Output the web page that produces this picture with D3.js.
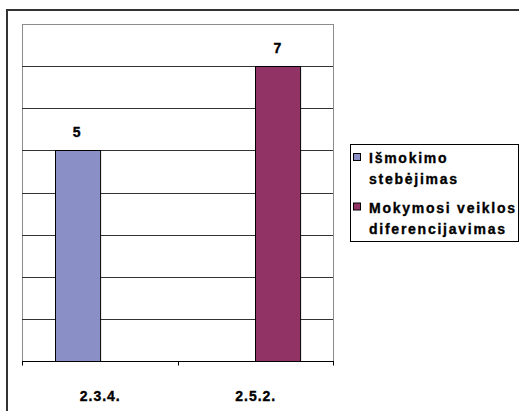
<!DOCTYPE html>
<html lang="lt">
  <head>
    <meta charset="UTF-8" />
    <title>Išmokimo stebėjimas</title>
    <style>
      body {
        margin: 0;
        background: #fff;
        font-family: "Liberation Sans", Arial, sans-serif;
      }
      svg {
        display: block;
      }
      .lbl {
        font-weight: bold;
        font-size: 14px;
        fill: #000;
        stroke: #000;
        stroke-width: 0.35px;
        letter-spacing: 1px;
      }
    </style>
  </head>
  <body>
    <script src="https://cdn.jsdelivr.net/npm/d3@7"></script>
    <script>
      // data
      var categories = ["2.3.4.", "2.5.2."];
      var seriesNames = ["Išmokimo stebėjimas", "Mokymosi veiklos diferencijavimas"];
      var seriesValues = [
        [5, null],
        [null, 7]
      ];
      var legendLines = [
        ["Išmokimo", "stebėjimas"],
        ["Mokymosi veiklos", "diferencijavimas"]
      ];
      var colors = ["#8a8fc6", "#913465"];

      var W = 519, H = 411;
      var plot = { left: 22, right: 333, top: 24, bottom: 361 };

      var svg = d3.select("body").append("svg").attr("width", W).attr("height", H);

      // outer chart border (runs off the right/bottom edge)
      svg.append("rect")
        .attr("x", 7).attr("y", 10)
        .attr("width", 530).attr("height", 430)
        .attr("fill", "#fff")
        .attr("stroke", "#333")
        .attr("stroke-width", 2);

      var x = d3.scaleBand().domain(categories).range([plot.left, plot.right]);
      var bw = x.bandwidth();
      var group = bw * 0.58;
      var xs = d3.scaleBand()
        .domain(d3.range(seriesNames.length))
        .range([(bw - group) / 2, (bw + group) / 2]);
      var y = d3.scaleLinear().domain([0, 8]).range([plot.bottom, plot.top]);

      // plot area + gridlines
      svg.append("rect")
        .attr("x", plot.left + 0.5).attr("y", plot.top + 0.5)
        .attr("width", plot.right - plot.left).attr("height", plot.bottom - plot.top)
        .attr("fill", "#fff")
        .attr("stroke", "#8c8c8c");

      svg.append("g")
        .selectAll("line")
        .data(y.ticks(8).filter(function (t) { return t > 0 && t < 8; }))
        .join("line")
        .attr("x1", plot.left).attr("x2", plot.right)
        .attr("y1", function (d) { return Math.round(y(d)) + 0.5; })
        .attr("y2", function (d) { return Math.round(y(d)) + 0.5; })
        .attr("stroke", "#333");

      // bars
      var bars = [];
      seriesValues.forEach(function (vals, s) {
        vals.forEach(function (v, i) {
          if (v != null) bars.push({ s: s, cat: categories[i], v: v });
        });
      });

      svg.append("g")
        .selectAll("rect")
        .data(bars)
        .join("rect")
        .attr("x", function (d) { return Math.round(x(d.cat) + xs(d.s)) + 0.5; })
        .attr("y", function (d) { return Math.round(y(d.v)) + 0.5; })
        .attr("width", xs.bandwidth())
        .attr("height", function (d) { return y(0) - Math.round(y(d.v)); })
        .attr("fill", function (d) { return colors[d.s]; })
        .attr("stroke", "#000");

      svg.append("g")
        .selectAll("text")
        .data(bars)
        .join("text")
        .attr("class", "lbl")
        .attr("text-anchor", "middle")
        .attr("x", function (d) { return x(d.cat) + xs(d.s) + xs.bandwidth() / 2; })
        .attr("y", function (d) { return y(d.v) - 13; })
        .text(function (d) { return d.v; });

      // x axis
      var xAxis = svg.append("g").attr("transform", "translate(0," + (plot.bottom + 0.5) + ")");
      xAxis.append("line")
        .attr("x1", plot.left).attr("x2", plot.right + 1)
        .attr("stroke", "#000");
      xAxis.selectAll("line.tick")
        .data(categories.map(function (c) { return x(c); }).concat([plot.right]))
        .join("line")
        .attr("class", "tick")
        .attr("x1", function (d) { return Math.round(d) + 0.5; })
        .attr("x2", function (d) { return Math.round(d) + 0.5; })
        .attr("y1", 0).attr("y2", 4)
        .attr("stroke", "#000");
      xAxis.selectAll("text")
        .data(categories)
        .join("text")
        .attr("class", "lbl")
        .attr("text-anchor", "middle")
        .attr("x", function (d) { return x(d) + bw / 2 + 0.5; })
        .attr("y", 39)
        .text(function (d) { return d; });

      // legend
      var legend = svg.append("g");
      legend.append("rect")
        .attr("x", 350.5).attr("y", 144.5)
        .attr("width", 168).attr("height", 97)
        .attr("fill", "#fff")
        .attr("stroke", "#000");

      var item = legend.selectAll("g.item")
        .data(seriesNames)
        .join("g")
        .attr("class", "item")
        .attr("transform", function (d, i) { return "translate(0," + (i * 49.5) + ")"; });
      item.append("rect")
        .attr("x", 353.5).attr("y", 153.5)
        .attr("width", 7).attr("height", 7)
        .attr("fill", function (d, i) { return colors[i]; })
        .attr("stroke", "#000");
      item.append("text")
        .attr("class", "lbl")
        .attr("x", 369)
        .attr("y", 163)
        .style("letter-spacing", "1.75px")
        .selectAll("tspan")
        .data(function (d, i) { return legendLines[i]; })
        .join("tspan")
        .attr("x", 369)
        .attr("dy", function (d, j) { return j === 0 ? 0 : 21; })
        .text(function (d) { return d; });
    </script>
  </body>
</html>
